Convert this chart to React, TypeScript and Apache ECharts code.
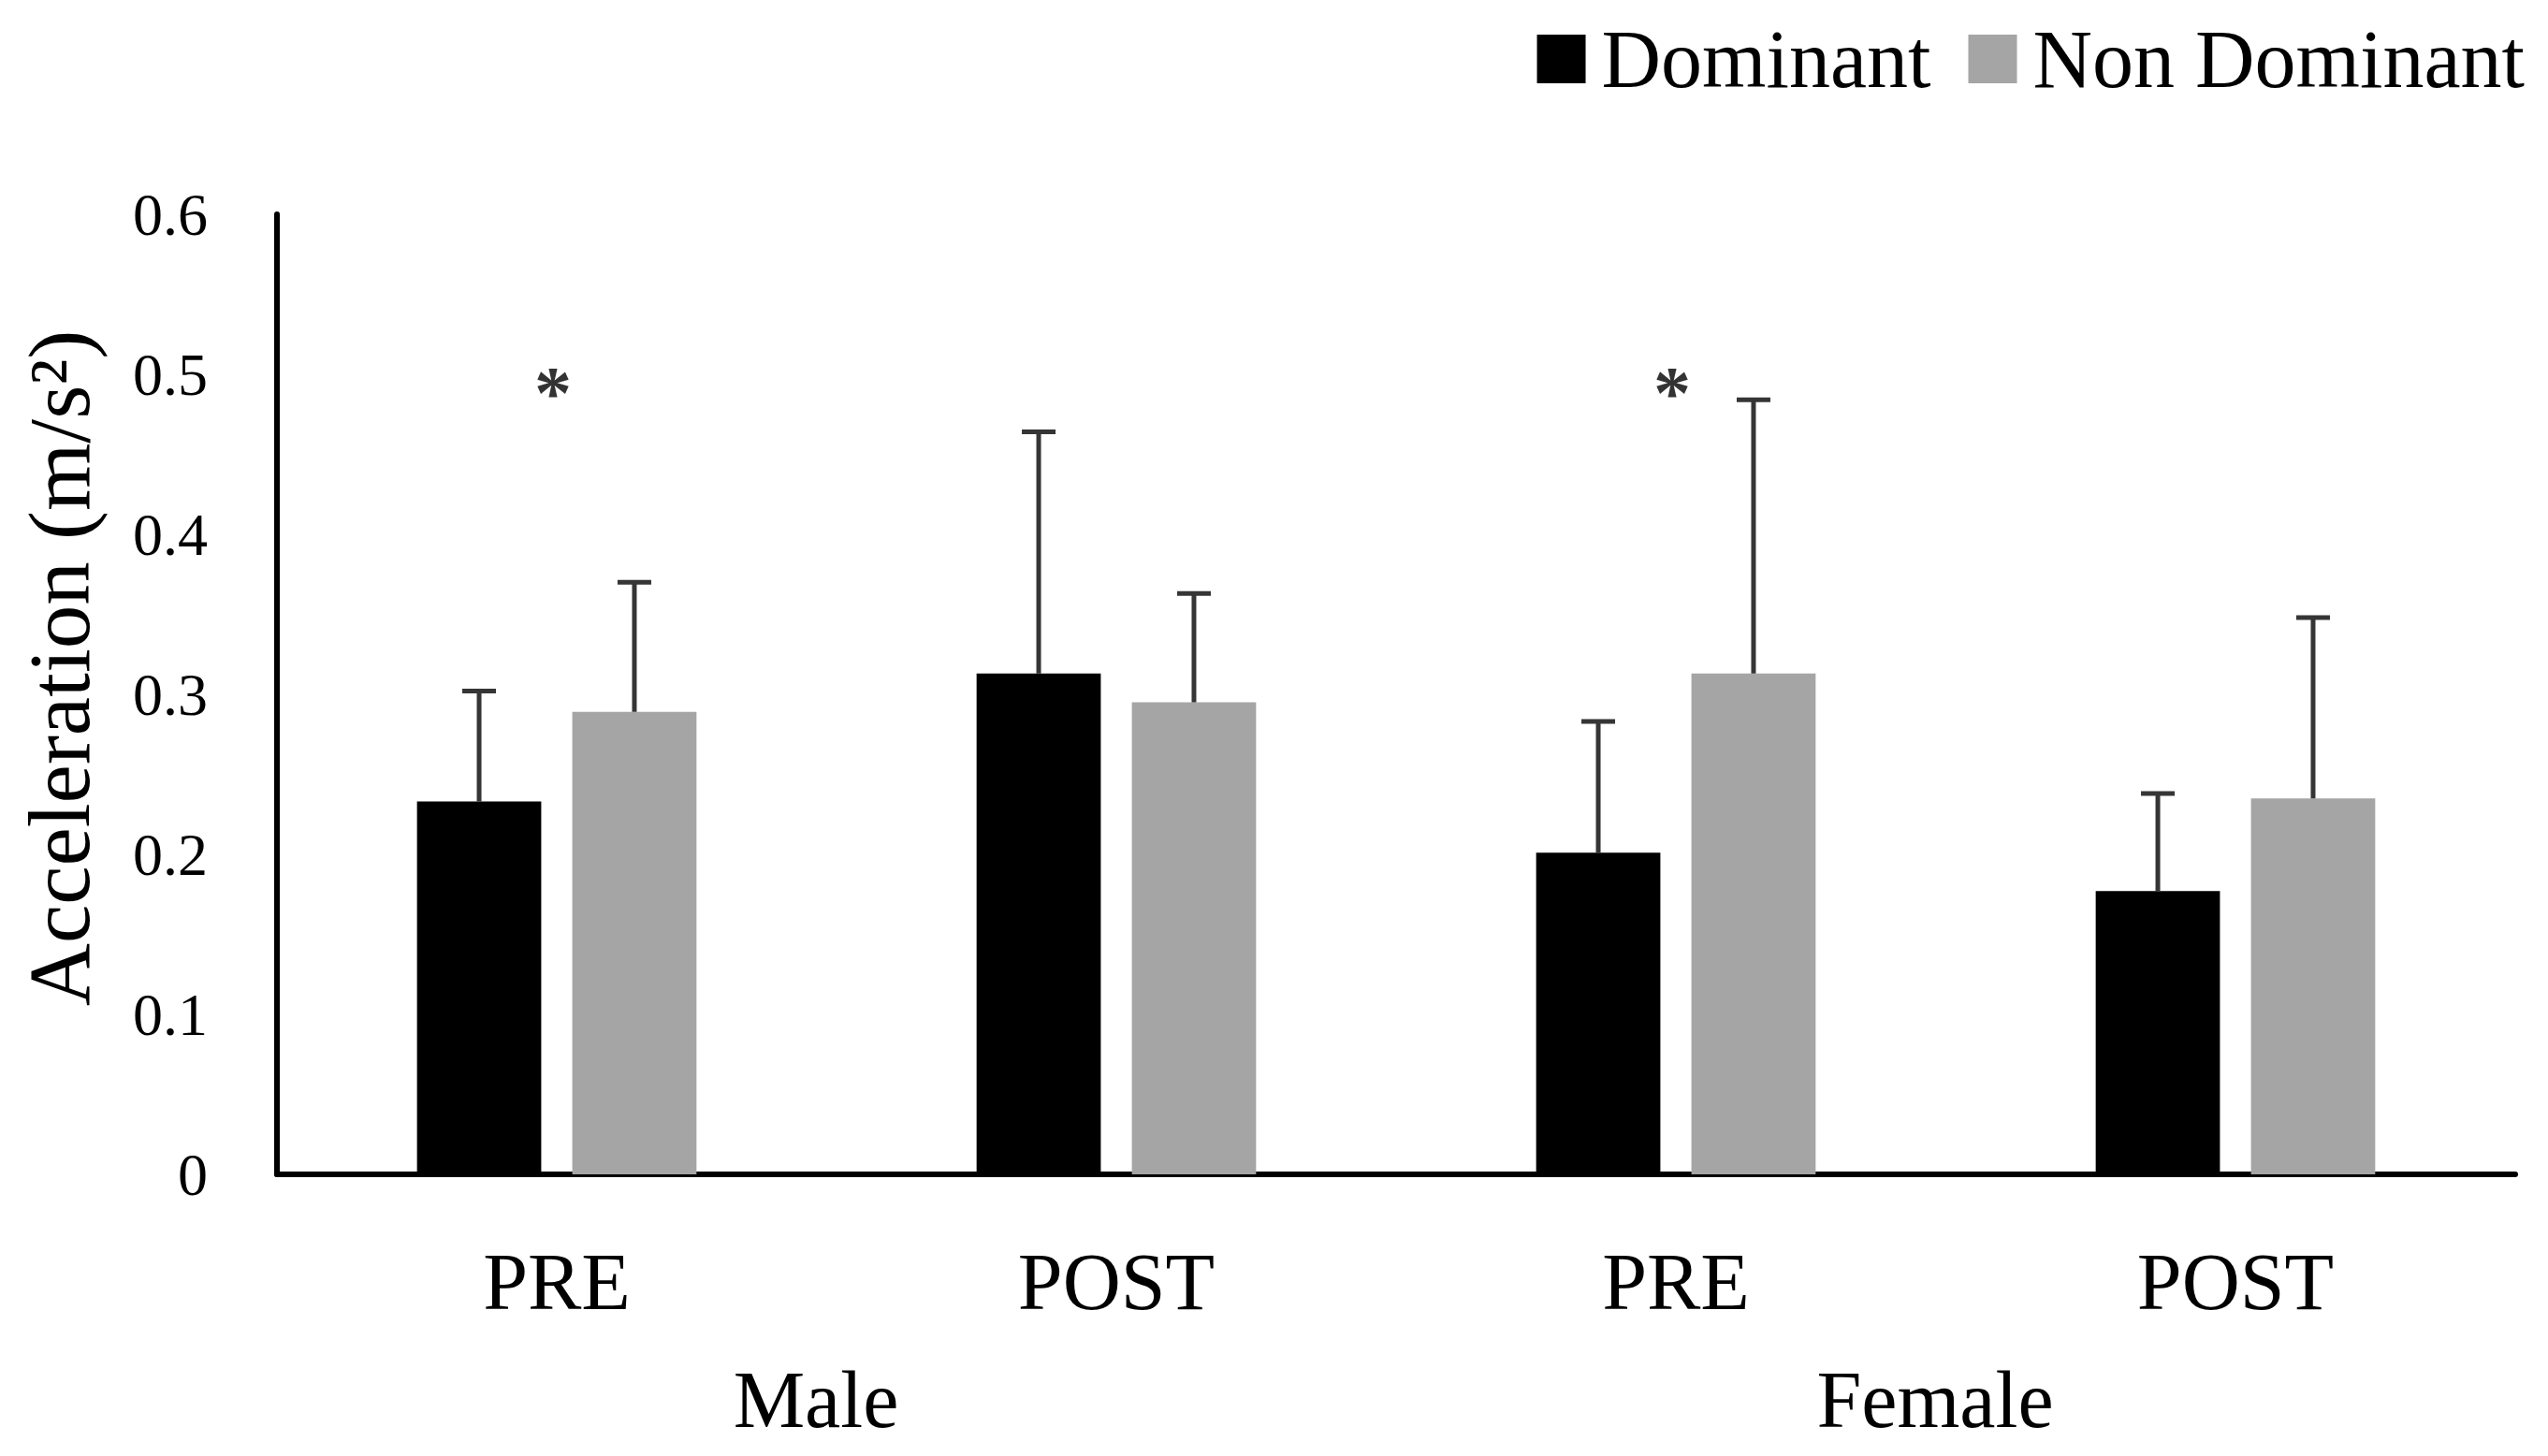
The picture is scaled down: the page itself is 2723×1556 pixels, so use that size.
import React, { useEffect, useRef } from "react";
import * as echarts from "echarts";

// Condition labels along the x axis and the sex groups beneath them
const CONDITIONS = ["PRE", "POST", "PRE", "POST"];
const GROUPS = ["Male", "Female"];

// Mean acceleration (m/s²) per condition
const DOMINANT = [0.233, 0.313, 0.201, 0.177];
const NON_DOMINANT = [0.289, 0.295, 0.313, 0.235];

// Standard deviations (upper error bars)
const DOMINANT_SD = [0.069, 0.151, 0.082, 0.061];
const NON_DOMINANT_SD = [0.081, 0.068, 0.171, 0.113];

// Significance markers: condition index and height
const SIG_MARKS = [
  [0, 0.493],
  [2, 0.493],
];

const Y_TICKS = { min: 0, max: 0.6, interval: 0.1 };

const FONT = "'Liberation Serif', 'Times New Roman', serif";
const BAR_RATIO = 0.222;
const GAP_RATIO = 0.25;

function errorSeries(name: string, means: number[], sds: number[], sign: number) {
  return {
    type: "custom",
    name: name + " SD",
    xAxisIndex: 0,
    yAxisIndex: 0,
    z: 5,
    silent: true,
    data: means.map((m, i) => [i, m, sds[i]]),
    renderItem: (_params: any, api: any) => {
      const i = api.value(0);
      const mean = api.value(1);
      const sd = api.value(2);
      const base = api.coord([i, mean]);
      const top = api.coord([i, mean + sd]);
      const band = api.size([1, 0])[0];
      const bw = band * BAR_RATIO;
      const x = base[0] + sign * (bw + bw * GAP_RATIO) / 2;
      const cap = 18;
      const style = { stroke: "#353535", lineWidth: 5 };
      return {
        type: "group",
        children: [
          { type: "line", shape: { x1: x, y1: base[1], x2: x, y2: top[1] }, style },
          { type: "line", shape: { x1: x - cap, y1: top[1], x2: x + cap, y2: top[1] }, style },
        ],
      };
    },
  };
}

export default function App() {
  const ref = useRef<HTMLDivElement>(null);

  useEffect(() => {
    document.body.style.margin = "0";
    if (!ref.current) return;
    const chart = echarts.init(ref.current, null, { renderer: "svg" });
    chart.setOption({
      animation: false,
      backgroundColor: "#ffffff",
      textStyle: { fontFamily: FONT, color: "#000" },
      legend: {
        data: ["Dominant", "Non Dominant"],
        right: 20,
        top: 14,
        icon: "rect",
        itemWidth: 52,
        itemHeight: 52,
        itemGap: 40,
        textStyle: { fontFamily: FONT, fontSize: 88, color: "#000", padding: [0, 0, 0, 12] },
      },
      grid: { left: 296, right: 35, top: 229, bottom: 301, containLabel: false },
      xAxis: [
        {
          type: "category",
          data: CONDITIONS,
          position: "bottom",
          axisLine: { show: true, lineStyle: { color: "#000", width: 6 } },
          axisTick: { show: false },
          axisLabel: { fontFamily: FONT, fontSize: 86, color: "#000", margin: 72 },
        },
        {
          type: "category",
          data: GROUPS,
          position: "bottom",
          offset: 0,
          axisLine: { show: false },
          axisTick: { show: false },
          axisLabel: {
            fontFamily: FONT,
            fontSize: 86,
            color: "#000",
            margin: 198,
            padding: [0, 44, 0, 0],
          },
        },
      ],
      yAxis: {
        type: "value",
        min: Y_TICKS.min,
        max: Y_TICKS.max,
        interval: Y_TICKS.interval,
        name: "Acceleration (m/s²)",
        nameLocation: "middle",
        nameGap: 186,
        nameTextStyle: { fontFamily: FONT, fontSize: 93, color: "#000", padding: [0, 0, 0, 56] },
        axisLine: { show: true, lineStyle: { color: "#000", width: 6 } },
        axisTick: { show: false },
        splitLine: { show: false },
        axisLabel: { fontFamily: FONT, fontSize: 64, color: "#000", margin: 74 },
      },
      series: [
        {
          type: "bar",
          name: "Dominant",
          data: DOMINANT,
          barWidth: BAR_RATIO * 100 + "%",
          barGap: GAP_RATIO * 100 + "%",
          itemStyle: { color: "#000000" },
        },
        {
          type: "bar",
          name: "Non Dominant",
          data: NON_DOMINANT,
          barWidth: BAR_RATIO * 100 + "%",
          barGap: GAP_RATIO * 100 + "%",
          itemStyle: { color: "#a5a5a5" },
        },
        errorSeries("Dominant", DOMINANT, DOMINANT_SD, -1),
        errorSeries("Non Dominant", NON_DOMINANT, NON_DOMINANT_SD, 1),
        {
          type: "scatter",
          name: "sig",
          data: SIG_MARKS,
          symbolSize: 0,
          silent: true,
          label: {
            show: true,
            position: "inside",
            formatter: "*",
            fontFamily: FONT,
            fontWeight: "bold",
            fontSize: 80,
            color: "#000",
            offset: [-4, 8],
          },
        },
      ],
    });
    return () => chart.dispose();
  }, []);

  return (
    <div
      ref={ref}
      style={{ position: "fixed", left: 0, top: 0, width: 2723, height: 1556 }}
    />
  );
}
